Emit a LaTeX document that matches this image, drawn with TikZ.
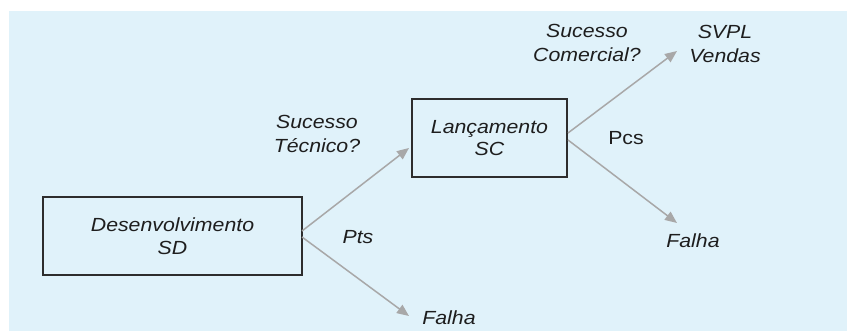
\documentclass[tikz,border=0pt]{standalone}
\usepackage{fontspec}
\setmainfont{Liberation Sans}[FakeStretch=1.12]
\usetikzlibrary{arrows.meta}
\definecolor{bgblue}{RGB}{224,242,250}
\definecolor{boxline}{RGB}{45,45,45}
\definecolor{txt}{RGB}{30,30,30}
\definecolor{arrowgray}{RGB}{168,168,168}
\begin{document}
\begin{tikzpicture}[x=1pt,y=-1pt,
  every node/.style={font=\fontsize{19}{22.5}\selectfont, text=txt},
  stagebox/.style={draw=boxline, line width=1.6pt, inner sep=0pt, align=center, font=\fontsize{19}{22.5}\selectfont\itshape},
  lbl/.style={align=center, inner sep=0pt, font=\fontsize{19}{23.5}\selectfont\itshape},
  conn/.style={draw=arrowgray, line width=1.5pt, -{Triangle[length=12pt,width=10pt]}}]
\useasboundingbox (0,0) rectangle (847,331);
\fill[bgblue] (9,11) rectangle (847,331);
% boxes
\node[stagebox, minimum width=259pt, minimum height=78pt] (b1) at (172.5,236) {Desenvolvimento\\SD};
\node[stagebox, minimum width=155pt, minimum height=78pt] (b2) at (489.5,138) {Lançamento\\SC};
% end points
\coordinate (b1u) at (302,231);
\coordinate (b1d) at (302,237);
\coordinate (b2u) at (568,133);
\coordinate (b2d) at (568,140);
\coordinate (t1) at (409,148);
\coordinate (t2) at (409,316);
\coordinate (t3) at (677,51);
\coordinate (t4) at (677,223);
% outcome labels
\node[lbl] (svpl) at (725,44) {SVPL\\Vendas};
\node[lbl] (falha2) at (693,241) {Falha};
\node[lbl] (falha1) at (449,318) {Falha};
% question labels
\node[lbl] (qt) at (317,134) {Sucesso\\Técnico?};
\node[lbl] (qc) at (587,43) {Sucesso\\Comercial?};
\node[lbl] (pts) at (358,237) {Pts};
\node[lbl, font=\fontsize{19}{22.5}\selectfont] (pcs) at (626,138) {Pcs};
% connectors
\draw[conn] (b1u) -- (t1);
\draw[conn] (b1d) -- (t2);
\draw[conn] (b2u) -- (t3);
\draw[conn] (b2d) -- (t4);
\end{tikzpicture}
\end{document}
